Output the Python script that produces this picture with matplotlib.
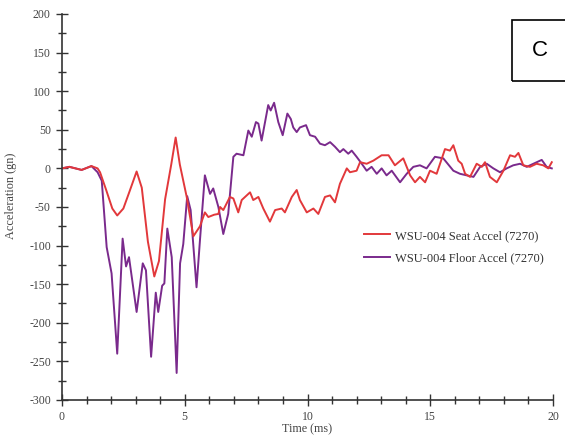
import numpy as np
import matplotlib
matplotlib.use('Agg')
import matplotlib.pyplot as plt
from matplotlib.patches import Rectangle

# Seat accel (red)
seat_t = [0, 0.3, 0.8, 1.2, 1.45, 1.55, 1.8, 2.05, 2.25, 2.5, 2.75, 3.04, 3.25, 3.5, 3.76,
          3.95, 4.2, 4.45, 4.63, 4.8, 5.08, 5.35, 5.62, 5.82, 5.96, 6.2, 6.37, 6.44, 6.57,
          6.84, 6.98, 7.18, 7.32, 7.66, 7.79, 8.0, 8.2, 8.47, 8.68, 8.95, 9.08, 9.36, 9.56,
          9.69, 9.97, 10.24, 10.44, 10.71, 10.92, 11.12, 11.32, 11.6, 11.73, 12.0, 12.14,
          12.41, 12.68, 13.02, 13.3, 13.56, 13.9, 14.18, 14.38, 14.58, 14.79, 14.99, 15.26,
          15.6, 15.8, 15.94, 16.14, 16.28, 16.42, 16.62, 16.89, 17.1, 17.23, 17.43, 17.71,
          17.98, 18.25, 18.45, 18.59, 18.79, 19.06, 19.33, 19.6, 19.81, 19.95]
seat_a = [0, 2, -2, 3, 0, -5, -28, -52, -61, -52, -30, -4, -25, -95, -140,
          -120, -40, 5, 40, 5, -37, -88, -75, -57, -63, -60, -59, -50, -54,
          -37, -39, -57, -41, -31, -41, -37, -52, -69, -54, -52, -57, -37, -28,
          -41, -57, -52, -59, -37, -35, -44, -20, 0, -5, -3, 8,
          6, 10, 17, 17, 4, 13, -9, -18, -11, -18, -3, -7,
          25, 23, 30, 10, 6, -7, -11, 6, 2, 8, -11, -18,
          -3, 17, 15, 20, 4, 2, 6, 4, 0, 8]

# Floor accel (purple)
floor_t = [0, 0.3, 0.8, 1.2, 1.45, 1.62, 1.82, 2.02, 2.25, 2.47, 2.61, 2.73, 3.04, 3.29,
           3.42, 3.63, 3.82, 3.92, 4.08, 4.17, 4.29, 4.47, 4.67, 4.81, 4.94, 5.1, 5.24,
           5.48, 5.62, 5.82, 6.03, 6.16, 6.37, 6.57, 6.77, 6.98, 7.11, 7.39, 7.59, 7.73,
           7.9, 8.0, 8.13, 8.4, 8.5, 8.64, 8.81, 8.99, 9.18, 9.32, 9.42, 9.56, 9.69, 9.94,
           10.1, 10.31, 10.51, 10.71, 10.92, 11.12, 11.32, 11.46, 11.66, 11.8, 12.0, 12.21,
           12.41, 12.61, 12.82, 13.02, 13.22, 13.43, 13.77, 14.04, 14.31, 14.58, 14.85,
           15.19, 15.53, 15.94, 16.21, 16.48, 16.76, 17.03, 17.3, 17.57, 17.84, 18.11,
           18.38, 18.66, 18.93, 19.2, 19.54, 19.74, 19.95]
floor_a = [0, 2, -2, 3, -5, -16, -102, -136, -240, -91, -127, -115, -186, -123,
           -132, -244, -161, -186, -152, -149, -78, -115, -265, -123, -98, -36, -54,
           -154, -93, -9, -33, -26, -50, -85, -59, 15, 19, 17, 49, 41,
           60, 58, 36, 82, 75, 85, 60, 43, 71, 64, 53, 47, 53, 56,
           43, 41, 32, 30, 34, 28, 21, 25, 19, 23, 15, 6,
           -3, 2, -7, 0, -9, -3, -18, -7, 2, 4, 0,
           15, 13, -3, -7, -9, -11, 2, 6, 0, -5, 0,
           4, 6, 2, 6, 11, 2, 0]

plt.rcParams['font.family'] = ['Liberation Serif', 'DejaVu Serif']
plt.rcParams['axes.unicode_minus'] = False

fig = plt.figure(figsize=(5.65, 4.37), dpi=100)
ax = fig.add_axes([0.1097, 0.0847, 0.8691, 0.8833])

ax.plot(floor_t, floor_a, color='#7a2a8c', lw=1.4, solid_joinstyle='round',
        label='WSU-004 Floor Accel (7270)')
ax.plot(seat_t, seat_a, color='#e2383b', lw=1.4, solid_joinstyle='round',
        label='WSU-004 Seat Accel (7270)')

ax.set_xlim(0, 20)
ax.set_ylim(-300, 200)
ax.set_xticks(np.arange(0, 21, 5))
ax.set_xticks(np.arange(0, 21, 1), minor=True)
ax.set_yticks(np.arange(-300, 201, 50))
ax.set_yticks(np.arange(-300, 201, 25), minor=True)
for s in ['top', 'right']:
    ax.spines[s].set_visible(False)
for s in ['left', 'bottom']:
    ax.spines[s].set_color('#333333')
    ax.spines[s].set_linewidth(1.2)
ax.tick_params(which='major', direction='inout', length=9, width=1, colors='#333333',
               labelsize=8.5, labelcolor='#444444')
ax.tick_params(which='minor', direction='inout', length=6, width=1, colors='#333333')
ax.set_xlabel('Time (ms)', fontsize=8.7, color='#444444', labelpad=0)
ax.set_ylabel('Acceleration (gn)', fontsize=8.8, color='#444444', labelpad=4)
ax.yaxis.set_label_coords(-0.092, 0.53)

h, l = ax.get_legend_handles_labels()
ax.legend(h[::-1], l[::-1], loc='upper left', bbox_to_anchor=(0.592, 0.47), frameon=False,
          fontsize=9, handlelength=2.1, handletextpad=0.35, labelspacing=0.85,
          labelcolor='#333333')

# "C" panel label box
fig.patches.append(Rectangle((512 / 565, 1 - 81 / 437), 60 / 565, 61 / 437,
                             transform=fig.transFigure, fill=False, lw=1.2, ec='black'))
fig.text(540 / 565, 1 - 50 / 437, 'C', fontsize=16, family='Liberation Sans',
         ha='center', va='center')

fig.savefig('out.png', dpi=100)
